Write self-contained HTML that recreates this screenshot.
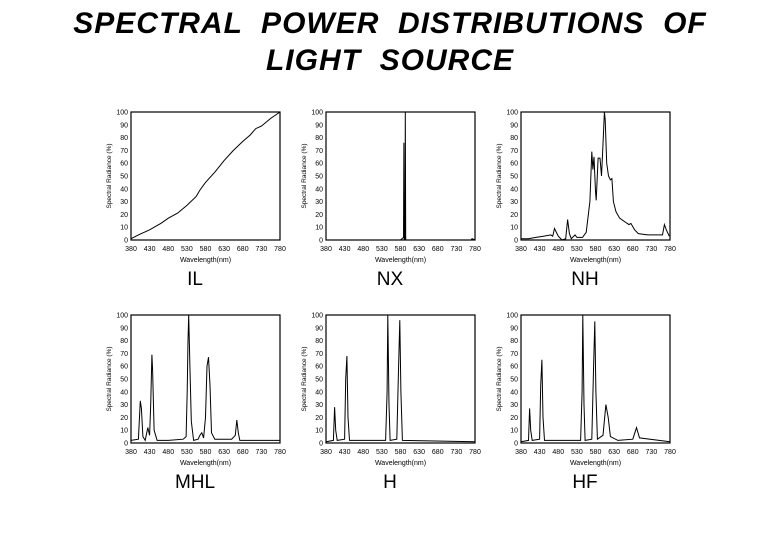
<!DOCTYPE html>
<html><head><meta charset="utf-8"><style>
body{margin:0;background:#fff;}
svg{display:block;font-family:"Liberation Sans",sans-serif;}
.t{white-space:pre;}
</style></head><body>
<svg width="779" height="539" viewBox="0 0 779 539">
<rect width="779" height="539" fill="#fff"/>
<text class="t" x="390" y="33" text-anchor="middle" font-size="30" font-style="italic" font-weight="bold" letter-spacing="1">SPECTRAL  POWER  DISTRIBUTIONS  OF</text>
<text class="t" x="390" y="70" text-anchor="middle" font-size="30" font-style="italic" font-weight="bold" letter-spacing="1">LIGHT  SOURCE</text>
<g id="charts"></g>
</svg>
<script>
const charts=[
 {x:131,y:112,n:"IL",d:[[380,1],[400,4],[430,8],[460,13],[480,17],[505,21],[530,27],[555,34],[565,39],[580,45],[605,53],[630,62],[655,70],[680,77],[700,82],[715,87],[730,89],[755,95],[780,100]]},
 {x:326,y:112,n:"NX",d:[[380,0],[580,0],[588,2],[589,76],[590,0],[592,0],[593,100],[594,0],[600,0],[770,0],[772,1],[780,0]]},
 {x:521,y:112,n:"NH",d:[[380,1],[400,1],[420,2],[440,3],[460,4],[465,3],[470,9],[480,3],[490,0],[500,1],[505,16],[510,5],[515,1],[525,4],[530,2],[545,2],[555,6],[565,30],[570,69],[573,55],[576,65],[580,38],[582,31],[587,64],[592,64],[596,50],[600,75],[604,100],[606,94],[610,60],[615,50],[620,47],[624,48],[628,30],[635,22],[645,17],[660,14],[670,12],[675,13],[685,8],[695,5],[720,4],[760,4],[765,12],[770,8],[778,3]]},
 {x:131,y:315,n:"MHL",d:[[380,2],[400,3],[405,33],[408,27],[412,5],[418,2],[425,12],[430,6],[433,30],[436,69],[438,57],[442,10],[450,2],[480,2],[520,3],[528,5],[531,40],[533,80],[535,100],[538,60],[542,17],[548,2],[560,3],[565,6],[570,8],[575,4],[580,20],[584,60],[588,67],[592,45],[596,8],[605,3],[650,3],[660,6],[664,18],[668,8],[672,2],[780,2]]},
 {x:326,y:315,n:"H",d:[[380,1],[400,2],[403,28],[406,10],[410,2],[430,3],[433,50],[436,68],[439,20],[443,2],[540,2],[544,40],[546,100],[549,30],[552,2],[570,3],[575,60],[578,96],[581,40],[585,2],[780,1]]},
 {x:521,y:315,n:"HF",d:[[380,1],[400,2],[403,27],[406,10],[410,2],[430,3],[433,45],[436,65],[439,20],[443,2],[540,2],[544,40],[546,100],[549,30],[552,2],[570,3],[575,60],[578,95],[581,40],[585,3],[600,6],[608,30],[614,20],[620,5],[640,2],[680,3],[690,12],[698,4],[780,1]]}
];
const W=149,H=128;
let out="";
for(const c of charts){
 const sx=v=>c.x+(v-380)/400*W, sy=v=>c.y+H-v/100*H;
 out+=`<rect x="${c.x}" y="${c.y}" width="${W}" height="${H}" fill="none" stroke="#000" stroke-width="1.2"/>`;
 out+=`<polyline fill="none" stroke="#000" stroke-width="1" points="${c.d.map(p=>sx(p[0]).toFixed(1)+","+sy(p[1]).toFixed(1)).join(" ")}"/>`;
 for(let v=0;v<=100;v+=10) out+=`<text x="${c.x-3}" y="${sy(v)+2.5}" font-size="7" text-anchor="end">${v}</text>`;
 for(let w=380;w<=780;w+=50){out+=`<text x="${sx(w)}" y="${c.y+H+11}" font-size="7" text-anchor="middle">${w}</text>`;}
 out+=`<text x="${c.x+W/2}" y="${c.y+H+22}" font-size="7" text-anchor="middle">Wavelength(nm)</text>`;
 out+=`<text transform="translate(${c.x-20},${c.y+H/2}) rotate(-90)" font-size="6.5" text-anchor="middle">Spectral Radiance (%)</text>`;
 out+=`<text x="${c.x+64}" y="${c.y+H+45}" font-size="19" text-anchor="middle">${c.n}</text>`;
}
document.getElementById("charts").innerHTML=out;
</script>
</body></html>
